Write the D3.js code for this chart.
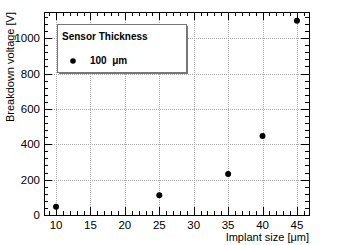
<!DOCTYPE html>
<html>
<head>
<meta charset="utf-8">
<script src="https://cdn.jsdelivr.net/npm/d3@7"></script>
<style>
  body { margin: 0; background: #fff; }
  text { font-family: "Liberation Sans", Arial, Helvetica, sans-serif; }
</style>
</head>
<body>
<div id="chart"></div>
<script>
// data
var implantSize = [10, 25, 35, 40, 45];
var breakdownV = [47, 112, 232, 447, 1099];
var xTicks = [10, 15, 20, 25, 30, 35, 40, 45];
var yTicks = [0, 200, 400, 600, 800, 1000];
var legendTitle = "Sensor Thickness";
var legendLabel = "100  \u03bcm";

var width = 340, height = 245;
var padL = 44, padR = 309, padT = 12, padB = 215;

var svg = d3.select("#chart").append("svg")
    .attr("width", width)
    .attr("height", height);

var x = d3.scaleLinear().domain([8.25, 46.75]).range([padL, padR]);
var y = d3.scaleLinear().domain([0, 1148]).range([padB, padT]);

// grid
svg.append("g").selectAll("line")
    .data(xTicks)
    .enter().append("line")
    .attr("x1", function(d){ return Math.round(x(d)) + 0.5; })
    .attr("x2", function(d){ return Math.round(x(d)) + 0.5; })
    .attr("y1", padT).attr("y2", padB)
    .style("stroke", "#aaa")
    .style("stroke-dasharray", "1,1");
svg.append("g").selectAll("line")
    .data(yTicks.filter(function(d){ return d > 0; }))
    .enter().append("line")
    .attr("y1", function(d){ return Math.round(y(d)) + 0.5; })
    .attr("y2", function(d){ return Math.round(y(d)) + 0.5; })
    .attr("x1", padL).attr("x2", padR)
    .style("stroke", "#aaa")
    .style("stroke-dasharray", "1,1");

// ticks, drawn on all four sides like ROOT
var xMinor = d3.range(9, 47, 1);
var yMinor = d3.range(0, 1148, 40);
function tickLines(g, vals, horiz, pos, len){
    g.append("g").selectAll("line")
        .data(vals)
        .enter().append("line")
        .attr("x1", function(d){ return horiz ? Math.round(x(d)) + 0.5 : pos; })
        .attr("x2", function(d){ return horiz ? Math.round(x(d)) + 0.5 : pos + len; })
        .attr("y1", function(d){ return horiz ? pos : Math.round(y(d)) + 0.5; })
        .attr("y2", function(d){ return horiz ? pos + len : Math.round(y(d)) + 0.5; })
        .style("stroke", "#000")
        .style("stroke-width", 1);
}
var tg = svg.append("g");
tickLines(tg, xMinor, true, padB, -4);
tickLines(tg, xMinor, true, padT, 4);
tickLines(tg, xTicks, true, padB, -8);
tickLines(tg, xTicks, true, padT, 8);
tickLines(tg, yMinor, false, padL, 4);
tickLines(tg, yMinor, false, padR, -4);
tickLines(tg, yTicks, false, padL, 8);
tickLines(tg, yTicks, false, padR, -8);

// frame
svg.append("rect")
    .attr("x", padL + 0.5).attr("y", padT + 0.5)
    .attr("width", padR - padL).attr("height", padB - padT)
    .style("fill", "none")
    .style("stroke", "#000");

// tick labels
svg.append("g").selectAll("text")
    .data(xTicks)
    .enter().append("text")
    .attr("x", function(d){ return x(d); })
    .attr("y", 229)
    .attr("text-anchor", "middle")
    .style("font-size", "11.5px")
    .text(function(d){ return d; });
svg.append("g").selectAll("text")
    .data(yTicks)
    .enter().append("text")
    .attr("x", 40)
    .attr("y", function(d){ return y(d) + 4; })
    .attr("text-anchor", "end")
    .style("font-size", "11.5px")
    .text(function(d){ return d; });

// axis titles
svg.append("text")
    .attr("x", padR)
    .attr("y", 241)
    .attr("text-anchor", "end")
    .style("font-size", "11px")
    .text("Implant size [\u03bcm]");
svg.append("text")
    .attr("transform", "translate(14," + padT + ") rotate(-90)")
    .attr("text-anchor", "end")
    .style("font-size", "11px")
    .text("Breakdown voltage [V]");

// legend
svg.append("rect")
    .attr("x", 59).attr("y", 26)
    .attr("width", 129).attr("height", 48)
    .style("fill", "#777");
svg.append("rect")
    .attr("x", 57.5).attr("y", 24.5)
    .attr("width", 129).attr("height", 48)
    .style("fill", "#fff")
    .style("stroke", "#777");
svg.append("text")
    .attr("x", 62).attr("y", 40)
    .style("font-size", "10px")
    .style("font-weight", "bold")
    .text(legendTitle);
svg.append("circle")
    .attr("cx", 73).attr("cy", 61)
    .attr("r", 2.8)
    .style("fill", "#000");
svg.append("text")
    .attr("x", 90).attr("y", 64)
    .style("font-size", "10px")
    .style("font-weight", "bold")
    .style("white-space", "pre")
    .text(legendLabel);

// points
svg.append("g").selectAll("circle")
    .data(implantSize)
    .enter().append("circle")
    .attr("cx", function(d){ return x(d); })
    .attr("cy", function(d, i){ return y(breakdownV[i]); })
    .attr("r", 3)
    .style("fill", "#000");
</script>
</body>
</html>
